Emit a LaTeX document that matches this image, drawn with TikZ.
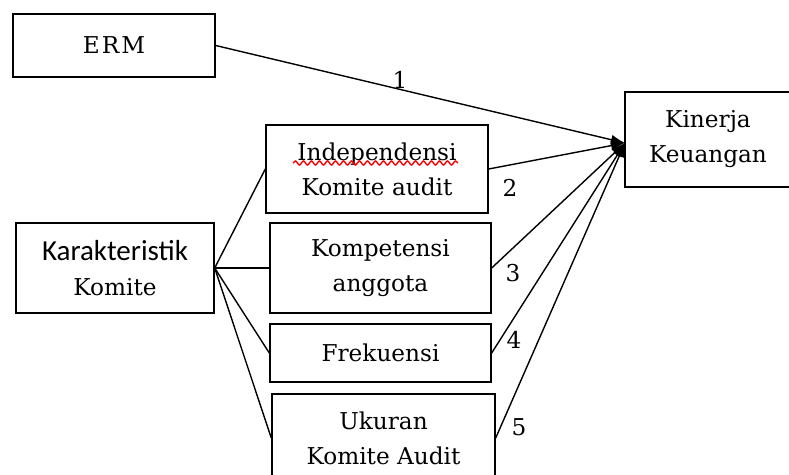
\documentclass[tikz,border=0pt]{standalone}
\usepackage{fontspec}
\setmainfont{DejaVu Serif}
\newfontfamily\calfont{Carlito}
\usetikzlibrary{arrows.meta,decorations.pathmorphing}

\tikzset{
  box/.style={draw,line width=.7pt,align=center,inner sep=0pt,
    font=\fontsize{11.6}{17.5}\selectfont},
  link/.style={line width=.7pt},
  goal/.style={link,-{Latex[length=7pt,width=5pt]}},
  num/.style={inner sep=0pt,font=\fontsize{11.6}{13}\selectfont},
}

\begin{document}
\begin{tikzpicture}[x=.5pt,y=-.5pt]
  \useasboundingbox (0,0) rectangle (789,475);
  \clip (0,0) rectangle (789,475);

  % left column
  \node[box,minimum width=101pt,minimum height=31.5pt] (erm) at (114,45.5)
    {E\kern1pt R\kern1pt M};
  \node[box,minimum width=99pt,minimum height=45pt] (karak) at (115,268)
    {{\calfont\fontsize{14.5}{17.5}\selectfont Karakteristik}\\Komite};

  % middle column, the four parts of the committee
  \node[box,minimum width=111pt,minimum height=44pt] (indep) at (377,169)
    {Independensi\\Komite audit};
  \node[box,minimum width=110.5pt,minimum height=45pt] (kompet) at (380.5,268)
    {Kompetensi\\anggota};
  \node[box,minimum width=110.5pt,minimum height=29pt] (frek) at (380.5,353)
    {Frekuensi};
  \node[box,minimum width=111.5pt,minimum height=44pt] (ukuran) at (383.5,438)
    {Ukuran\\Komite Audit};

  % right box, cut at the page edge
  \node[box,minimum width=83pt,minimum height=47.5pt] (kinerja) at (708,139.5)
    {Kinerja\\Keuangan};

  % red wavy mark under Independensi
  \draw[red,line width=.7pt,decorate,
    decoration={snake,amplitude=1pt,segment length=4pt}] (293,163) -- (458,163);

  \coordinate (hit) at (625,143);

  % committee to its parts
  \foreach \n in {indep,kompet,frek,ukuran} {
    \draw[link] (karak.east) -- (\n.west);
  }

  % everything points to Kinerja
  \draw[goal] (erm.east) -- (hit);
  \foreach \n in {indep,kompet,frek,ukuran} {
    \draw[goal] (\n.east) -- (hit);
  }

  % numbers on the arrows
  \node[num] (n1) at (400,80) {1};
  \node[num] (n2) at (510,188) {2};
  \node[num] (n3) at (513,273) {3};
  \node[num] (n4) at (514,340) {4};
  \node[num] (n5) at (519,427) {5};

\end{tikzpicture}
\end{document}
